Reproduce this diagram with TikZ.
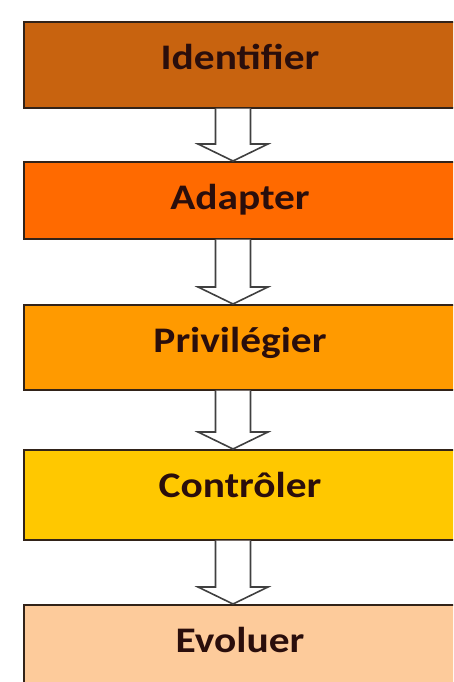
\documentclass[tikz,border=0pt]{standalone}
\usepackage{fontspec}
\setmainfont{Carlito}[FakeStretch=1.15]
\usepackage{xcolor}
\usepackage{tikz}
\usetikzlibrary{calc}
\usetikzlibrary{positioning}

\definecolor{identcol}{RGB}{200,99,15}
\definecolor{adaptcol}{RGB}{255,106,0}
\definecolor{privcol}{RGB}{255,154,0}
\definecolor{ctrlcol}{RGB}{255,200,0}
\definecolor{evolcol}{RGB}{253,203,155}
\definecolor{textbrown}{RGB}{42,14,12}
\definecolor{edgebrown}{RGB}{50,35,25}

\begin{document}
\begin{tikzpicture}[x=1pt,y=1pt,
                    font=\fontsize{36}{40}\selectfont\bfseries,
                    stage box/.style 2 args={draw=edgebrown, line width=1.6pt, fill=#1,
                        text=textbrown, inner sep=0pt, minimum width=432pt,
                        text height=48pt, text depth=#2, anchor=north}]

    % hollow block arrow, start x is kept for the whole arrow
    \tikzset{
        hollow arrow/.style={draw=black!75, line width=1.6pt, fill=white,
            to path={let \p1=(\tikztostart), \p2=(\tikztotarget) in
                (\x1-17.5pt,\y1) -- (\x1-17.5pt,\y2+17pt) -- (\x1-35pt,\y2+17pt)
                -- (\x1,\y2) -- (\x1+35pt,\y2+17pt) -- (\x1+17.5pt,\y2+17pt)
                -- (\x1+17.5pt,\y1)}}
    }

    \path[clip, use as bounding box] (0,0) rectangle (453,682);

    \node[stage box={identcol}{38pt}] (ident) at (240,661) {Identifier};
    \node[stage box={adaptcol}{29pt}] (adapt) at (240,521) {Adapter};
    \node[stage box={privcol}{37pt}]  (priv)  at (240,378) {Privilégier};
    \node[stage box={ctrlcol}{42pt}]  (ctrl)  at (240,233) {Contrôler};
    \node[stage box={evolcol}{40pt}]  (evol)  at (240,78)  {Evoluer};

    \path[every edge/.style={hollow arrow}]
        ([xshift=-7pt]ident.south) edge ([xshift=-7pt]adapt.north)
        ([xshift=-7pt]adapt.south) edge ([xshift=-7pt]priv.north)
        ([xshift=-7pt]priv.south)  edge ([xshift=-7pt]ctrl.north)
        ([xshift=-7pt]ctrl.south)  edge ([xshift=-7pt]evol.north);
\end{tikzpicture}
\end{document}
